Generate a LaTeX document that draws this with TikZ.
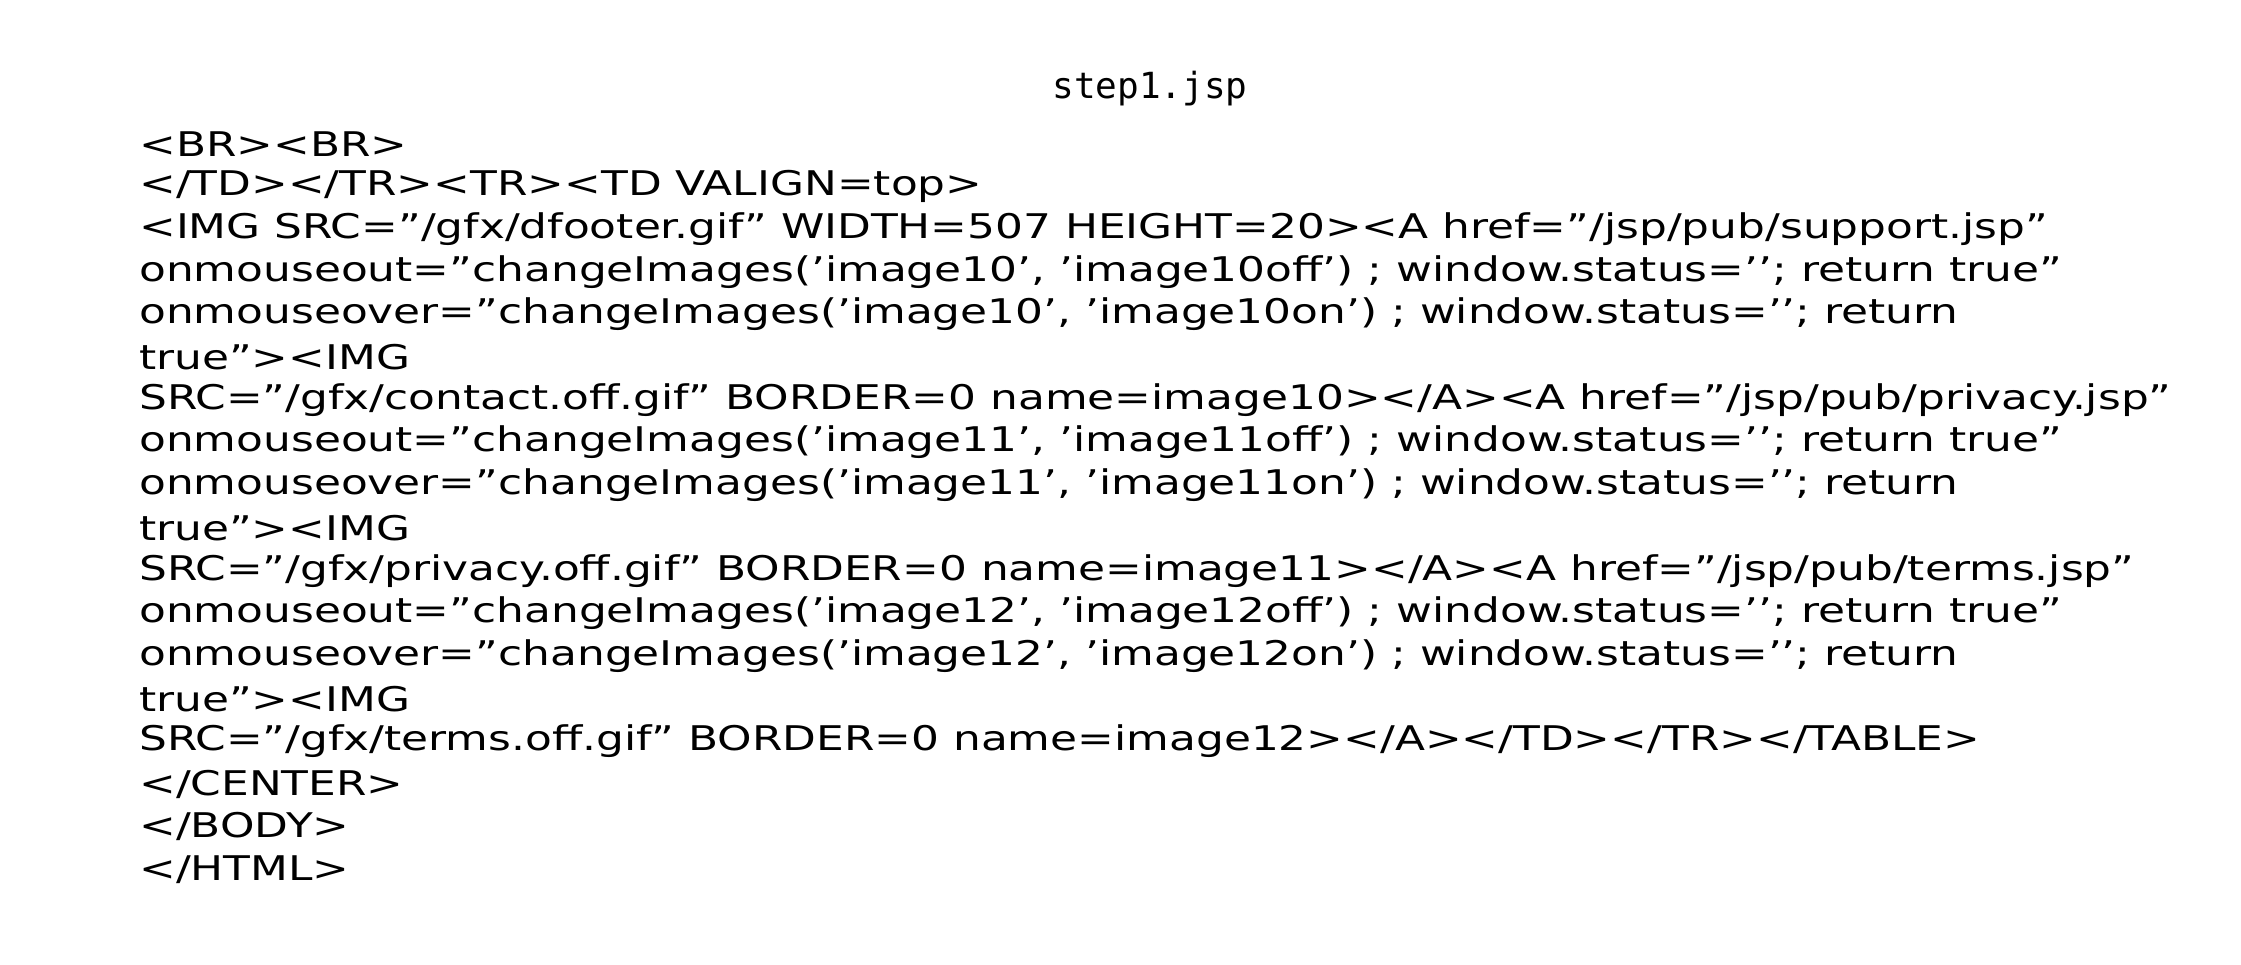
\documentclass[tikz,border=0pt]{standalone}
\usepackage{fontspec}
\setmainfont{DejaVu Sans}
\newfontfamily\monofont{DejaVu Sans Mono}
\usepackage{tikz}

\tikzset{
  codeline/.style={anchor=west, inner sep=0pt, font=\fontsize{34}{40}\selectfont, xscale=1.29, yscale=-1, transform shape},
  titletext/.style={inner sep=0pt, font=\monofont\fontsize{36}{40}\selectfont}
}

\begin{document}
\begin{tikzpicture}[x=1pt,y=1pt,yscale=-1,xscale=1]
    \useasboundingbox (0,0) rectangle (2241,965);

    % Title
    \node[titletext] (title) at (1150,89) {step1.jsp};

    % Code lines
    \node[codeline] (l1)  at (139,143.7) {<BR><BR>};
    \node[codeline] (l2)  at (139,186.4) {</TD></TR><TR><TD VALIGN=top>};
    \node[codeline] (l3)  at (139,229.1) {<IMG SRC="/gfx/dfooter.gif" WIDTH=507 HEIGHT=20><A href="/jsp/pub/support.jsp"};
    \node[codeline] (l4)  at (139,271.8) {onmouseout="changeImages('image10', 'image10off') ; window.status={'}{'}; return true"};
    \node[codeline] (l5)  at (139,314.5) {onmouseover="changeImages('image10', 'image10on') ; window.status={'}{'}; return};
    \node[codeline] (l6)  at (139,357.2) {true"><IMG};
    \node[codeline] (l7)  at (139,399.9) {SRC="/gfx/contact.off.gif" BORDER=0 name=image10></A><A href="/jsp/pub/privacy.jsp"};
    \node[codeline] (l8)  at (139,442.6) {onmouseout="changeImages('image11', 'image11off') ; window.status={'}{'}; return true"};
    \node[codeline] (l9)  at (139,485.3) {onmouseover="changeImages('image11', 'image11on') ; window.status={'}{'}; return};
    \node[codeline] (l10) at (139,528.0) {true"><IMG};
    \node[codeline] (l11) at (139,570.7) {SRC="/gfx/privacy.off.gif" BORDER=0 name=image11></A><A href="/jsp/pub/terms.jsp"};
    \node[codeline] (l12) at (139,613.4) {onmouseout="changeImages('image12', 'image12off') ; window.status={'}{'}; return true"};
    \node[codeline] (l13) at (139,656.1) {onmouseover="changeImages('image12', 'image12on') ; window.status={'}{'}; return};
    \node[codeline] (l14) at (139,698.8) {true"><IMG};
    \node[codeline] (l15) at (139,741.5) {SRC="/gfx/terms.off.gif" BORDER=0 name=image12></A></TD></TR></TABLE>};
    \node[codeline] (l16) at (139,784.2) {</CENTER>};
    \node[codeline] (l17) at (139,826.9) {</BODY>};
    \node[codeline] (l18) at (139,869.6) {</HTML>};

\end{tikzpicture}
\end{document}
